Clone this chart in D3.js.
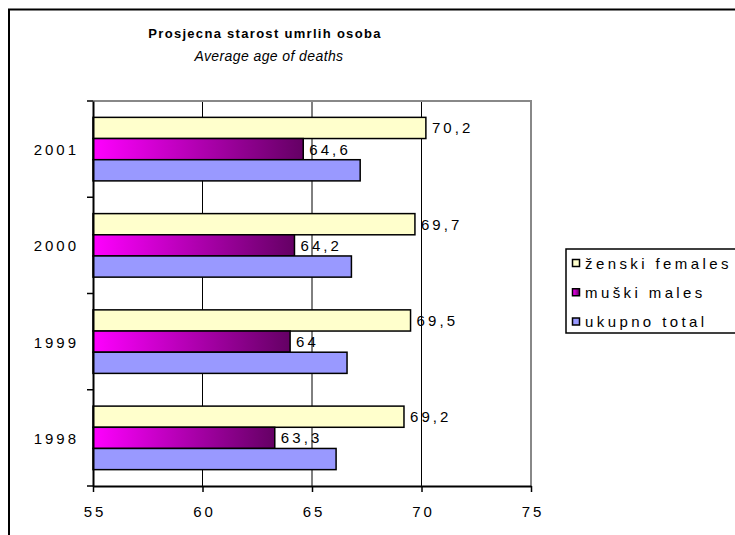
<!DOCTYPE html>
<html>
<head>
<meta charset="utf-8">
<script src="https://cdn.jsdelivr.net/npm/d3@7"></script>
<style>
  body { margin: 0; background: #fff; }
  svg { display: block; font-family: "Liberation Sans", Arial, sans-serif; }
</style>
</head>
<body>
<div id="chart"></div>
<script>
// data (top to bottom)
var years = ["2001", "2000", "1999", "1998"];
var seriesKeys = ["f", "m", "t"];
var seriesNames = ["ženski females", "muški males", "ukupno total"];
var females = [70.2, 69.7, 69.5, 69.2];
var males = [64.6, 64.2, 64, 63.3];
var totals = [67.2, 66.8, 66.6, 66.1];
var xTicks = [55, 60, 65, 70, 75];

var size = { width: 735, height: 535, left: 93, top: 101, right: 531, bottom: 486 };

var rows = years.map(function(y, i) {
  return { year: y, f: females[i], m: males[i], t: totals[i] };
});

var svg = d3.select("#chart").append("svg")
  .attr("width", size.width)
  .attr("height", size.height);

var defs = svg.append("defs");
var grad = defs.append("linearGradient").attr("id", "maleGrad")
  .attr("x1", "0%").attr("x2", "100%").attr("y1", "0%").attr("y2", "0%");
grad.append("stop").attr("offset", "0%").attr("stop-color", "#ff00ff");
grad.append("stop").attr("offset", "100%").attr("stop-color", "#640064");

var fills = { f: "#ffffcc", m: "url(#maleGrad)", t: "#9999ff" };

// outer frame
svg.append("rect")
  .attr("x", 9).attr("y", 9.5)
  .attr("width", 760).attr("height", 560)
  .attr("fill", "#fff").attr("stroke", "#000").attr("stroke-width", 2);

// titles
svg.append("text")
  .attr("x", 265).attr("y", 38)
  .attr("text-anchor", "middle")
  .attr("font-size", "13px").attr("font-weight", "bold")
  .attr("letter-spacing", "1.3px")
  .text("Prosjecna starost umrlih osoba");
svg.append("text")
  .attr("x", 269).attr("y", 61)
  .attr("text-anchor", "middle")
  .attr("font-size", "14px").attr("font-style", "italic")
  .attr("letter-spacing", "0.4px")
  .text("Average age of deaths");

var x = d3.scaleLinear().domain([55, 75]).range([size.left, size.right]);
var y0 = d3.scaleBand().domain(years).range([size.top, size.bottom]);
var bw = y0.bandwidth();
var y1 = d3.scaleBand().domain(seriesKeys).range([bw * 0.17, bw * 0.83]);

// gridlines
svg.append("g").selectAll("line")
  .data(xTicks.slice(1, -1))
  .enter().append("line")
  .attr("x1", function(d) { return x(d); })
  .attr("x2", function(d) { return x(d); })
  .attr("y1", size.top).attr("y2", size.bottom)
  .attr("stroke", "#000").attr("stroke-width", 1);

// plot border (top and right, grey)
svg.append("path")
  .attr("d", "M" + size.left + "," + size.top + "H" + size.right + "V" + size.bottom)
  .attr("fill", "none").attr("stroke", "#888").attr("stroke-width", 2);

// bars
var groups = svg.append("g").selectAll("g")
  .data(rows)
  .enter().append("g")
  .attr("transform", function(d) { return "translate(0," + y0(d.year) + ")"; });

groups.selectAll("rect")
  .data(function(d) { return seriesKeys.map(function(k) { return { key: k, value: d[k] }; }); })
  .enter().append("rect")
  .attr("x", x(55))
  .attr("y", function(d) { return y1(d.key); })
  .attr("width", function(d) { return x(d.value) - x(55); })
  .attr("height", y1.bandwidth())
  .attr("fill", function(d) { return fills[d.key]; })
  .attr("stroke", "#000").attr("stroke-width", 1.5);

// value labels (females and males only)
groups.selectAll("text")
  .data(function(d) { return ["f", "m"].map(function(k) { return { key: k, value: d[k] }; }); })
  .enter().append("text")
  .attr("x", function(d) { return x(d.value) + 6; })
  .attr("y", function(d) { return y1(d.key) + y1.bandwidth() / 2 + 5.5; })
  .attr("font-size", "15px")
  .attr("letter-spacing", "3.1px")
  .text(function(d) { return String(d.value).replace(".", ","); });

// x axis
var xAxis = d3.axisBottom(x).tickValues(xTicks).tickSize(6).tickSizeOuter(0);
var gx = svg.append("g")
  .attr("transform", "translate(0," + size.bottom + ")")
  .call(xAxis);
gx.select(".domain").attr("stroke", "#000").attr("stroke-width", 2);
gx.selectAll(".tick line").attr("stroke", "#000").attr("stroke-width", 1.5);
gx.selectAll(".tick text")
  .attr("y", 20)
  .attr("dx", "1.5px")
  .attr("font-size", "15px")
  .attr("font-family", "Liberation Sans, Arial, sans-serif")
  .attr("letter-spacing", "3px")
  .attr("fill", "#000");

// y axis: line, boundary ticks, year labels
var yAxis = d3.axisLeft(y0).tickSize(0).tickPadding(17);
var gy = svg.append("g")
  .attr("transform", "translate(" + size.left + ",0)")
  .call(yAxis);
gy.select(".domain").attr("stroke", "#000").attr("stroke-width", 2);
gy.selectAll(".tick text")
  .attr("dx", "3px")
  .attr("dy", "0.4em")
  .attr("font-size", "15px")
  .attr("font-family", "Liberation Sans, Arial, sans-serif")
  .attr("letter-spacing", "3px")
  .attr("fill", "#000");

var bounds = years.map(function(d) { return y0(d); }).concat([size.bottom]);
svg.append("g").selectAll("line")
  .data(bounds)
  .enter().append("line")
  .attr("x1", size.left - 6).attr("x2", size.left)
  .attr("y1", function(d) { return d; })
  .attr("y2", function(d) { return d; })
  .attr("stroke", "#000").attr("stroke-width", 1.5);

// legend
var legend = svg.append("g");
legend.append("rect")
  .attr("x", 566).attr("y", 249)
  .attr("width", 200).attr("height", 84)
  .attr("fill", "#fff").attr("stroke", "#000").attr("stroke-width", 1.5);

var legY = d3.scalePoint().domain(seriesKeys).range([263, 321.5]);
var items = legend.selectAll("g.item")
  .data(seriesKeys)
  .enter().append("g").attr("class", "item");
items.append("rect")
  .attr("x", 572.5)
  .attr("y", function(d) { return legY(d) - 3.5; })
  .attr("width", 7).attr("height", 7)
  .attr("fill", function(d) { return fills[d]; })
  .attr("stroke", "#000").attr("stroke-width", 1.5);
items.append("text")
  .attr("x", 585)
  .attr("y", function(d) { return legY(d) + 5.5; })
  .attr("font-size", "15px")
  .attr("letter-spacing", "3.4px")
  .text(function(d, i) { return seriesNames[i]; });
</script>
</body>
</html>
